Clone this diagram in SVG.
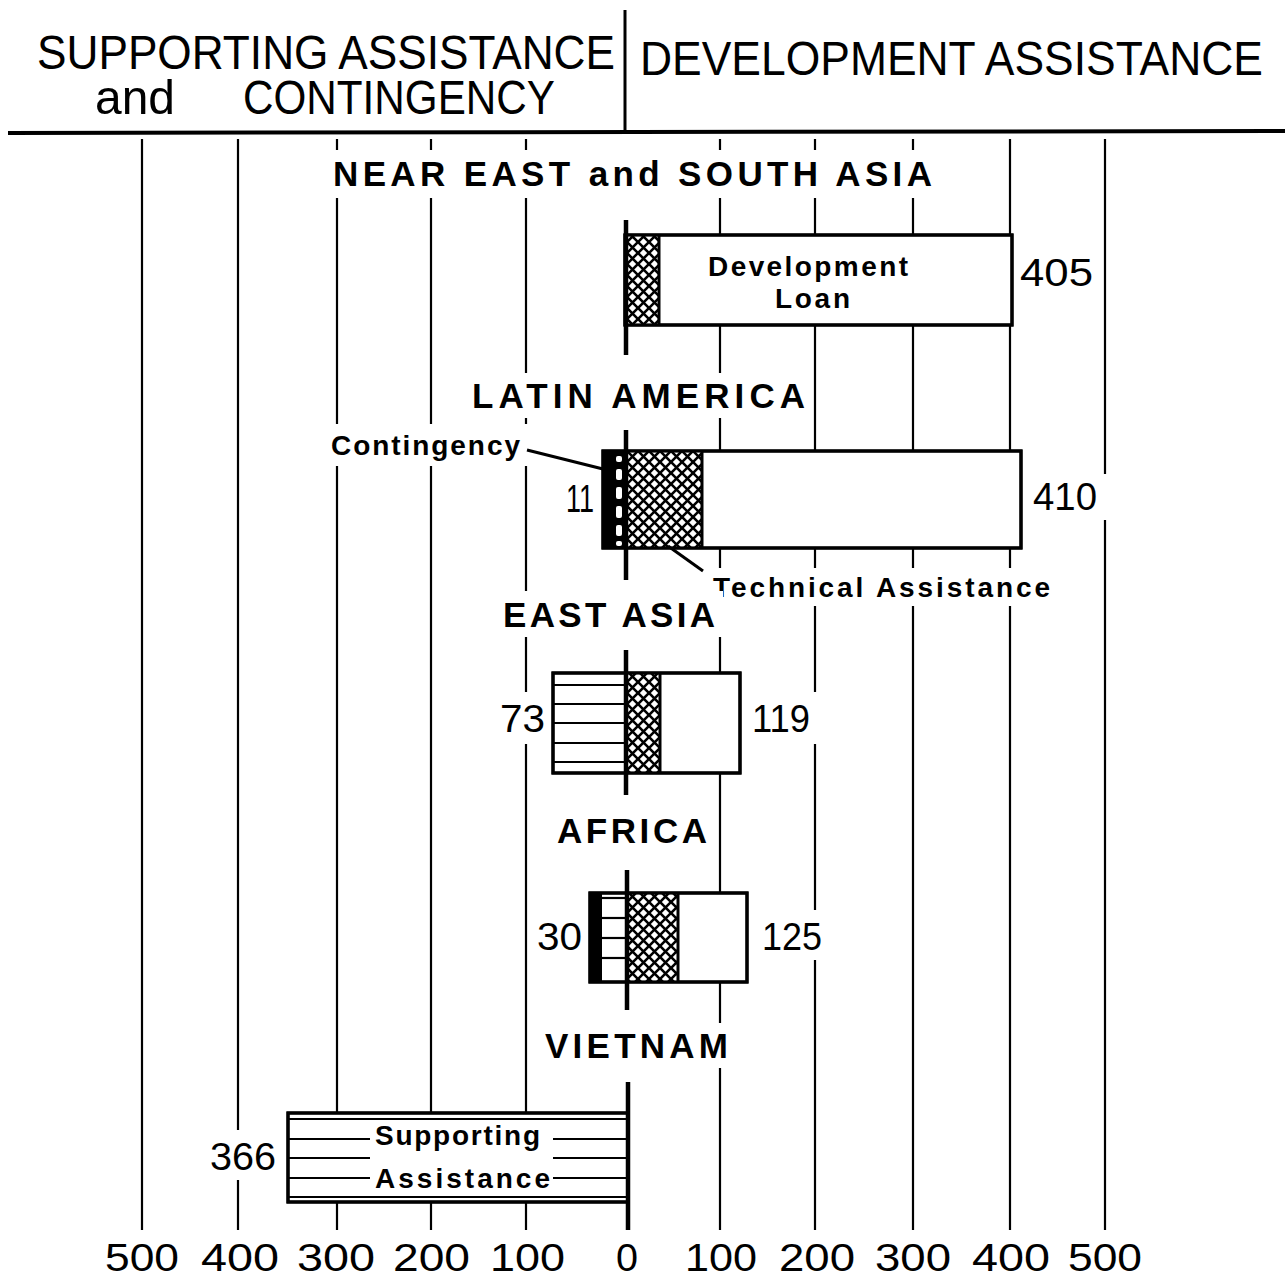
<svg xmlns="http://www.w3.org/2000/svg" width="1288" height="1277" viewBox="0 0 1288 1277">
  <defs>
    <!-- diamond cross-hatch used for Technical Assistance -->
    <pattern id="xhatch" patternUnits="userSpaceOnUse" x="0" y="0" width="11" height="11">
      <rect width="11" height="11" fill="#fff"/>
      <path d="M-2,-2 L13,13 M13,-2 L-2,13" stroke="#000" stroke-width="2.6"/>
    </pattern>
  </defs>
  <style>
    text { font-family: "Liberation Sans", Arial, sans-serif; fill: #000; }
    .grid line { stroke: #000; stroke-width: 2.2; }
    .axis { stroke: #000; stroke-width: 4.5; }
    .bar { fill: #fff; stroke: #000; stroke-width: 3; }
    .frame { fill: none; stroke: #000; stroke-width: 3.2; }
    .sep { stroke: #000; stroke-width: 3; }
    .stripe { stroke: #000; stroke-width: 2.2; }
    .gap { fill: #fff; }
    .head { font-size: 42px; }
    .region { font-size: 35px; font-weight: bold; }
    .num { font-size: 38px; }
    .lbl { font-size: 28px; font-weight: bold; }
    .tick { font-size: 38px; }
    .leader { stroke: #000; stroke-width: 3; }
  </style>

  <rect width="1288" height="1277" fill="#fff"/>

  <!-- heading band -->
  <g id="header">
    <line x1="8" y1="133" x2="1285" y2="131" stroke="#000" stroke-width="4"/>
    <line x1="625" y1="10" x2="625" y2="133" stroke="#000" stroke-width="3"/>
    <text class="head" transform="translate(37,69) scale(1,1.15)" textLength="578" lengthAdjust="spacingAndGlyphs">SUPPORTING ASSISTANCE</text>
    <text class="head" transform="translate(0,114) scale(1,1.15)"><tspan x="95" textLength="80" lengthAdjust="spacingAndGlyphs">and</tspan><tspan x="243" textLength="312" lengthAdjust="spacingAndGlyphs">CONTINGENCY</tspan></text>
    <text class="head" transform="translate(640,75) scale(1,1.15)" textLength="623" lengthAdjust="spacingAndGlyphs">DEVELOPMENT ASSISTANCE</text>
  </g>

  <!-- vertical scale lines -->
  <g class="grid" id="grid">
    <line x1="142" y1="139" x2="142" y2="1230"/>
    <line x1="238" y1="139" x2="238" y2="1230"/>
    <line x1="337" y1="139" x2="337" y2="1230"/>
    <line x1="431" y1="139" x2="431" y2="1230"/>
    <line x1="526" y1="139" x2="526" y2="1230"/>
    <line x1="720" y1="139" x2="720" y2="1230"/>
    <line x1="815" y1="139" x2="815" y2="1230"/>
    <line x1="913" y1="139" x2="913" y2="1230"/>
    <line x1="1010" y1="139" x2="1010" y2="1230"/>
    <line x1="1105" y1="139" x2="1105" y2="1230"/>
  </g>

  <!-- scale figures -->
  <g id="scale">
    <text class="tick" x="105" y="1271" textLength="74" lengthAdjust="spacingAndGlyphs">500</text>
    <text class="tick" x="201" y="1271" textLength="78" lengthAdjust="spacingAndGlyphs">400</text>
    <text class="tick" x="297" y="1271" textLength="78" lengthAdjust="spacingAndGlyphs">300</text>
    <text class="tick" x="393" y="1271" textLength="77" lengthAdjust="spacingAndGlyphs">200</text>
    <text class="tick" x="490" y="1271" textLength="75" lengthAdjust="spacingAndGlyphs">100</text>
    <text class="tick" x="616" y="1271" textLength="22" lengthAdjust="spacingAndGlyphs">0</text>
    <text class="tick" x="685" y="1271" textLength="72" lengthAdjust="spacingAndGlyphs">100</text>
    <text class="tick" x="779" y="1271" textLength="76" lengthAdjust="spacingAndGlyphs">200</text>
    <text class="tick" x="875" y="1271" textLength="76" lengthAdjust="spacingAndGlyphs">300</text>
    <text class="tick" x="972" y="1271" textLength="78" lengthAdjust="spacingAndGlyphs">400</text>
    <text class="tick" x="1068" y="1271" textLength="74" lengthAdjust="spacingAndGlyphs">500</text>
  </g>

  <!-- Near East and South Asia -->
  <g id="near-east">
    <rect class="gap" x="325" y="150" width="615" height="48"/>
    <rect class="gap" x="1013" y="250" width="87" height="46"/>
    <text class="region" x="333" y="186" textLength="599" lengthAdjust="spacing">NEAR EAST and SOUTH ASIA</text>
    <text class="num" x="1020" y="286" textLength="73" lengthAdjust="spacingAndGlyphs">405</text>
    <rect class="bar" x="625" y="235" width="387" height="90"/>
    <rect x="625" y="235" width="34" height="90" fill="url(#xhatch)"/>
    <line class="sep" x1="659" y1="235" x2="659" y2="325"/>
    <rect class="frame" x="625" y="235" width="387" height="90"/>
    <line class="axis" x1="626" y1="220" x2="626" y2="355"/>
    <text class="lbl" x="708" y="276" textLength="200" lengthAdjust="spacing">Development</text>
    <text class="lbl" x="775" y="308" textLength="75" lengthAdjust="spacing">Loan</text>
  </g>

  <!-- Latin America -->
  <g id="latin-america">
    <rect class="gap" x="464" y="373" width="349" height="45"/>
    <rect class="gap" x="323" y="424" width="205" height="42"/>
    <rect class="gap" x="559" y="480" width="41" height="42"/>
    <rect class="gap" x="1025" y="474" width="83" height="46"/>
    <rect class="gap" x="705" y="568" width="353" height="38"/>
    <text class="region" x="472" y="408" textLength="333" lengthAdjust="spacing">LATIN AMERICA</text>
    <text class="lbl" x="331" y="455" textLength="189" lengthAdjust="spacing">Contingency</text>
    <text class="num" x="566" y="512" textLength="28" lengthAdjust="spacingAndGlyphs">11</text>
    <text class="num" x="1033" y="510" textLength="64" lengthAdjust="spacingAndGlyphs">410</text>
    <text class="lbl" x="713" y="597" textLength="337" lengthAdjust="spacing">Technical Assistance</text>
    <rect class="bar" x="603" y="451" width="418" height="97"/>
    <rect x="603" y="451" width="24" height="97" fill="#000"/>
    <g fill="#fff">
      <rect x="616" y="456" width="6" height="6" rx="2"/>
      <rect x="616" y="469" width="6" height="11" rx="2"/>
      <rect x="616" y="487" width="6" height="12" rx="2"/>
      <rect x="616" y="506" width="6" height="12" rx="2"/>
      <rect x="616" y="525" width="6" height="11" rx="2"/>
      <rect x="616" y="541" width="6" height="5" rx="2"/>
    </g>
    <rect x="628" y="451" width="74" height="97" fill="url(#xhatch)"/>
    <line class="sep" x1="702" y1="451" x2="702" y2="548"/>
    <rect class="frame" x="603" y="451" width="418" height="97"/>
    <line class="axis" x1="626" y1="430" x2="626" y2="580"/>
  </g>

  <!-- East Asia -->
  <g id="east-asia">
    <rect class="gap" x="495" y="591" width="228" height="46"/>
    <rect class="gap" x="492" y="692" width="57" height="52"/>
    <rect class="gap" x="744" y="692" width="74" height="52"/>
    <text class="region" x="503" y="627" textLength="212" lengthAdjust="spacing">EAST ASIA</text>
    <text class="num" x="500" y="732" textLength="45" lengthAdjust="spacingAndGlyphs">73</text>
    <text class="num" x="752" y="732" textLength="58" lengthAdjust="spacingAndGlyphs">119</text>
    <rect class="bar" x="553" y="673" width="187" height="100"/>
    <g class="stripe">
      <line x1="553" y1="685" x2="626" y2="685"/>
      <line x1="553" y1="704" x2="626" y2="704"/>
      <line x1="553" y1="723" x2="626" y2="723"/>
      <line x1="553" y1="743" x2="626" y2="743"/>
      <line x1="553" y1="762" x2="626" y2="762"/>
    </g>
    <rect x="627" y="673" width="33" height="100" fill="url(#xhatch)"/>
    <line class="sep" x1="660" y1="673" x2="660" y2="773"/>
    <rect class="frame" x="553" y="673" width="187" height="100"/>
    <line class="axis" x1="626" y1="650" x2="626" y2="795"/>
  </g>

  <!-- Africa -->
  <g id="africa">
    <rect class="gap" x="549" y="808" width="166" height="45"/>
    <rect class="gap" x="529" y="910" width="58" height="50"/>
    <rect class="gap" x="754" y="910" width="76" height="50"/>
    <text class="region" x="557" y="843" textLength="150" lengthAdjust="spacing">AFRICA</text>
    <text class="num" x="537" y="950" textLength="45" lengthAdjust="spacingAndGlyphs">30</text>
    <text class="num" x="762" y="950" textLength="60" lengthAdjust="spacingAndGlyphs">125</text>
    <rect class="bar" x="590" y="893" width="157" height="89"/>
    <rect x="590" y="893" width="12" height="89" fill="#000"/>
    <g class="stripe">
      <line x1="602" y1="898" x2="628" y2="898"/>
      <line x1="602" y1="918" x2="628" y2="918"/>
      <line x1="602" y1="938" x2="628" y2="938"/>
      <line x1="602" y1="958" x2="628" y2="958"/>
    </g>
    <rect x="629" y="893" width="49" height="89" fill="url(#xhatch)"/>
    <line class="sep" x1="678" y1="893" x2="678" y2="982"/>
    <rect class="frame" x="590" y="893" width="157" height="89"/>
    <line class="axis" x1="627" y1="870" x2="627" y2="1010"/>
  </g>

  <!-- Vietnam -->
  <g id="vietnam">
    <rect class="gap" x="537" y="1023" width="199" height="45"/>
    <rect class="gap" x="202" y="1130" width="82" height="50"/>
    <text class="region" x="545" y="1058" textLength="183" lengthAdjust="spacing">VIETNAM</text>
    <text class="num" x="210" y="1170" textLength="66" lengthAdjust="spacingAndGlyphs">366</text>
    <rect class="bar" x="288" y="1113" width="340" height="89"/>
    <g class="stripe">
      <line x1="288" y1="1119" x2="628" y2="1119"/>
      <line x1="288" y1="1139" x2="370" y2="1139"/>
      <line x1="553" y1="1139" x2="628" y2="1139"/>
      <line x1="288" y1="1158" x2="370" y2="1158"/>
      <line x1="553" y1="1158" x2="628" y2="1158"/>
      <line x1="288" y1="1178" x2="370" y2="1178"/>
      <line x1="553" y1="1178" x2="628" y2="1178"/>
      <line x1="288" y1="1197" x2="628" y2="1197"/>
    </g>
    <rect class="frame" x="288" y="1113" width="340" height="89"/>
    <line class="axis" x1="628" y1="1082" x2="628" y2="1230"/>
    <text class="lbl" x="375" y="1145" textLength="165" lengthAdjust="spacing">Supporting</text>
    <text class="lbl" x="375" y="1188" textLength="175" lengthAdjust="spacing">Assistance</text>
  </g>

  <!-- label leaders -->
  <g id="connectors">
    <line class="leader" x1="527" y1="450" x2="603" y2="469"/>
    <line class="leader" x1="668" y1="546" x2="703" y2="571"/>
  </g>
</svg>
